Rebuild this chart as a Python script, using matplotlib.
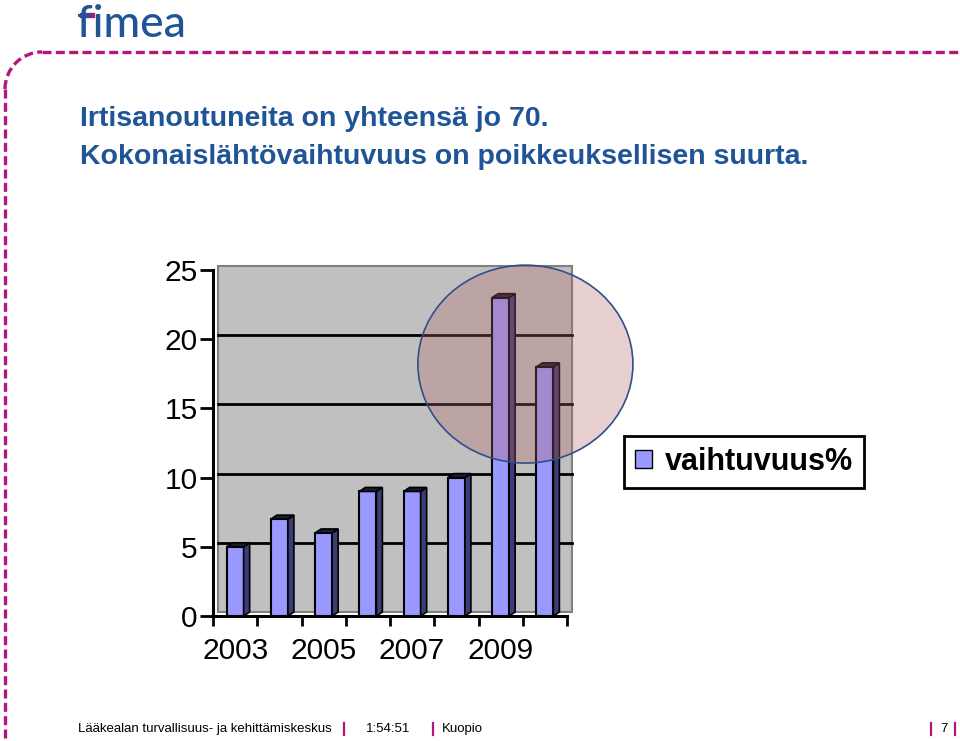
import numpy as np
import matplotlib
matplotlib.use("Agg")
import matplotlib.pyplot as plt
from matplotlib.patches import Rectangle, Polygon, Ellipse, Patch, Arc
from matplotlib.transforms import offset_copy

## データ
years = ["2003", "2004", "2005", "2006", "2007", "2008", "2009", "2010"]
values = [5, 7, 6, 9, 9, 10, 23, 18]
yticks = [0, 5, 10, 15, 20, 25]
series_name = "vaihtuvuus%"
title_lines = ["Irtisanoutuneita on yhteensä jo 70.",
               "Kokonaislähtövaihtuvuus on poikkeuksellisen suurta."]
footer_items = ["Lääkealan turvallisuus- ja kehittämiskeskus", "1:54:51", "Kuopio", "7"]

BLUE = "#1f5596"
MAGENTA = "#b3177e"
BAR = "#9999ff"

plt.rcParams['font.family'] = ['Liberation Sans', 'DejaVu Sans']

fig = plt.figure(figsize=(9.6, 7.41), dpi=100)

## 背景の装飾（ピクセル座標）
deco = fig.add_axes([0, 0, 1, 1])
deco.set_xlim(0, 960)
deco.set_ylim(741, 0)
deco.axis("off")
dash = dict(color=MAGENTA, lw=2.4, dashes=(2.7, 1.3), solid_capstyle="butt")
deco.plot([42, 960], [52, 52], **dash)
deco.add_patch(Arc((42, 89), 74, 74, theta1=180, theta2=270, color=MAGENTA, lw=2.4,
                   linestyle=(0, (2.7, 1.3))))
deco.plot([5, 5], [89, 741], **dash)

## ロゴ
deco.text(77, 37, "fimea", color=BLUE, fontsize=32, family="Lato", fontweight="medium",
          va="baseline", ha="left")
deco.add_patch(Rectangle((80, 13), 14, 3.5, color=MAGENTA))

## タイトル
deco.text(80, 126, title_lines[0], color=BLUE, fontsize=20.5, fontweight="bold", va="baseline")
deco.text(80, 164, title_lines[1], color=BLUE, fontsize=20.5, fontweight="bold", va="baseline")

## フッター
fkw = dict(fontsize=9.5, va="center")
deco.text(78, 729, footer_items[0], **fkw)
deco.text(366, 729, footer_items[1], **fkw)
deco.text(442, 729, footer_items[2], **fkw)
deco.text(940, 729, footer_items[3], **fkw)
for xs in [344, 433, 931, 955]:
    deco.plot([xs, xs], [723, 735], color=MAGENTA, lw=1.6)

## グラフ本体
ax = fig.add_axes([213/960, 125/741, 354/960, 346/741])
n = len(values)
ax.set_xlim(0, n)
ax.set_ylim(0, 25)
ax.patch.set_visible(False)

depth = offset_copy(ax.transData, fig=fig, x=5, y=4, units="dots")
wall = Rectangle((0, 0), n, 25, facecolor="#c0c0c0", edgecolor="#808080", lw=1.5,
                 transform=depth, zorder=0, clip_on=False)
ax.add_patch(wall)
for yv in yticks[1:-1]:
    ax.plot([0, n], [yv, yv], color="black", lw=2, transform=depth, zorder=1, clip_on=False)

x = np.arange(n) + 0.5
bw = 0.385
dx, dy = 6/44.25, 4/13.84
bars = ax.bar(x, values, width=bw, color=BAR, edgecolor="black", lw=1.5, zorder=3, clip_on=False)
for xi, v in zip(x, values):
    r = xi + bw/2
    l = xi - bw/2
    ax.add_patch(Polygon([(r, 0), (r+dx, dy), (r+dx, v+dy), (r, v)], closed=True,
                         facecolor="#3c3c78", edgecolor="black", lw=1.2, zorder=3, clip_on=False))
    ax.add_patch(Polygon([(l, v), (l+dx, v+dy), (r+dx, v+dy), (r, v)], closed=True,
                         facecolor="#1a1a33", edgecolor="black", lw=1.2, zorder=3, clip_on=False))

## 強調の円
ax.add_patch(Ellipse((7.06, 18.2), 4.86, 14.3, facecolor=(0.72, 0.4, 0.4, 0.3),
                     edgecolor="#2f4f8a", lw=1.2, zorder=4, clip_on=False))

for side in ["top", "right"]:
    ax.spines[side].set_visible(False)
ax.spines["left"].set_linewidth(2.2)
ax.spines["bottom"].set_linewidth(2.2)
ax.set_yticks(yticks)
ax.set_yticklabels([str(t) for t in yticks], fontsize=21.5)
ax.tick_params(axis="y", length=9.4, width=2, direction="out", pad=1.5)
ax.set_xticks(np.arange(n + 1))
ax.set_xticklabels([])
ax.tick_params(axis="x", which="major", length=7.2, width=2, direction="out")
ax.set_xticks(x[::2], minor=True)
ax.set_xticklabels(years[::2], minor=True, fontsize=21.5)
ax.tick_params(axis="x", which="minor", length=0, pad=15)

leg = ax.legend(handles=[Patch(facecolor=BAR, edgecolor="black")], labels=[series_name],
                loc="center left", bbox_to_anchor=(624/960, 279/741), bbox_transform=fig.transFigure,
                borderaxespad=0, fancybox=False, edgecolor="black", framealpha=1,
                handlelength=0.55, handleheight=0.55, handletextpad=0.45, borderpad=0.35,
                prop=dict(size=22, weight="bold"))
leg.get_frame().set_linewidth(2)

fig.savefig("out.png", dpi=100)
